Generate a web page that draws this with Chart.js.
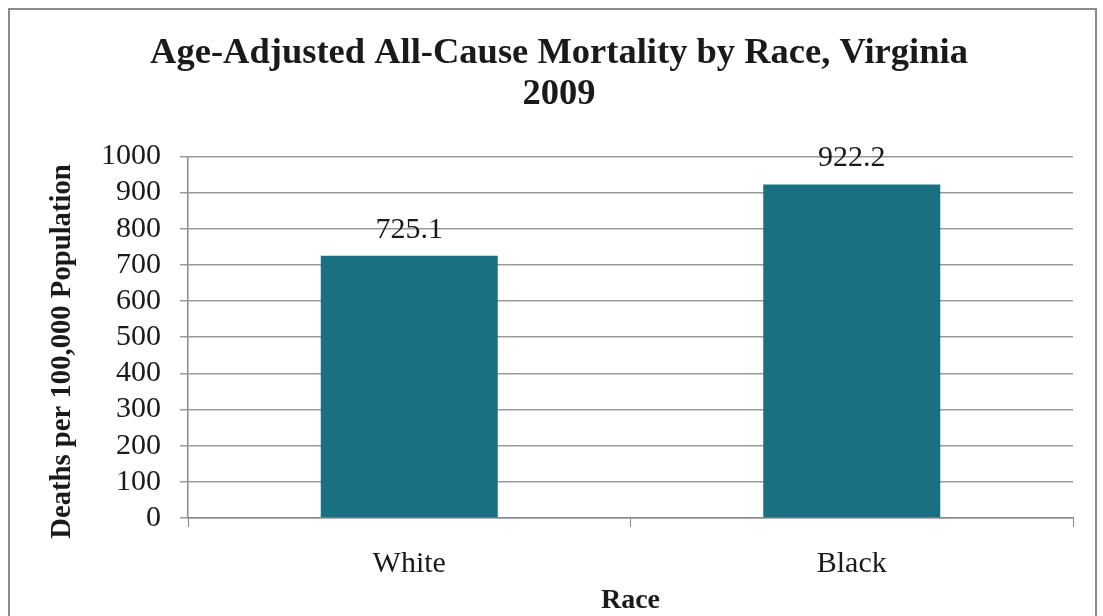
<!DOCTYPE html>
<html>
<head>
<meta charset="utf-8">
<script src="https://cdn.jsdelivr.net/npm/chart.js@4.4.0/dist/chart.umd.min.js"></script>
<style>
  html, body { margin: 0; padding: 0; background: #fff; }
  #wrap { position: relative; width: 1103px; height: 616px; overflow: hidden; }
  #frame { position: absolute; left: 8px; top: 8px; width: 1089px; height: 700px; border: 2px solid #8a8a8a; box-sizing: border-box; }
  canvas { position: absolute; left: 0; top: 0; }
</style>
</head>
<body>
<div id="wrap">
  <div id="frame"></div>
  <canvas id="chart" width="1103" height="616"></canvas>
</div>
<script>
const categories = ['White', 'Black'];
const mortality = [725.1, 922.2];
const yTicks = [0, 100, 200, 300, 400, 500, 600, 700, 800, 900, 1000];

const serif = '"Liberation Serif", "Times New Roman", serif';

// value labels above each bar
const barLabels = {
  id: 'barLabels',
  afterDatasetsDraw(chart) {
    const ctx = chart.ctx;
    const meta = chart.getDatasetMeta(0);
    ctx.save();
    ctx.font = '30px ' + serif;
    ctx.fillStyle = '#1a1a1a';
    ctx.textAlign = 'center';
    ctx.textBaseline = 'middle';
    meta.data.forEach((bar, i) => {
      ctx.fillText(mortality[i].toFixed(1), bar.x, bar.y - 26);
    });
    ctx.restore();
  }
};

new Chart(document.getElementById('chart'), {
  type: 'bar',
  data: {
    labels: categories,
    datasets: [{
      data: mortality,
      backgroundColor: '#1b6f83',
      borderWidth: 0,
      categoryPercentage: 0.4,
      barPercentage: 1.0
    }]
  },
  options: {
    responsive: false,
    animation: false,
    layout: { padding: { left: 45, right: 30, top: 0, bottom: 0 } },
    plugins: {
      legend: { display: false },
      tooltip: { enabled: false },
      title: {
        display: true,
        text: ['Age-Adjusted All-Cause Mortality by Race, Virginia', '2009'],
        color: '#1a1a1a',
        font: { family: serif, size: 36.5, weight: 'bold', lineHeight: 1.1 },
        padding: { top: 34, bottom: 42 }
      }
    },
    scales: {
      x: {
        afterFit(scale) { scale.height = 98; },
        grid: { offset: true, drawOnChartArea: false, drawTicks: true, tickLength: 9, color: '#8a8a8a' },
        border: { color: '#8a8a8a', width: 1.5 },
        ticks: { color: '#1a1a1a', font: { family: serif, size: 30 }, padding: 19 },
        title: {
          display: true,
          text: 'Race',
          color: '#1a1a1a',
          font: { family: serif, size: 28, weight: 'bold' },
          padding: { top: 0, bottom: -2 }
        }
      },
      y: {
        min: 0,
        max: 1000,
        afterFit(scale) { scale.width = 188 - 45; },
        afterBuildTicks(scale) { scale.ticks = yTicks.map(v => ({ value: v })); },
        grid: { color: '#9a9a9a', lineWidth: 1.5, drawTicks: true, tickLength: 8 },
        border: { color: '#8a8a8a', width: 1.5 },
        ticks: {
          color: '#1a1a1a',
          font: { family: serif, size: 30 },
          padding: 19,
          autoSkip: false,
          callback: v => String(v)
        },
        title: {
          display: true,
          // trailing spaces push the text a little toward the bottom, as in the original
          text: 'Deaths per 100,000 Population\u00a0\u00a0\u00a0\u00a0',
          color: '#1a1a1a',
          font: { family: serif, size: 28.7, weight: 'bold' },
          padding: { top: 0, bottom: 0 }
        }
      }
    }
  },
  plugins: [barLabels]
});
</script>
</body>
</html>
